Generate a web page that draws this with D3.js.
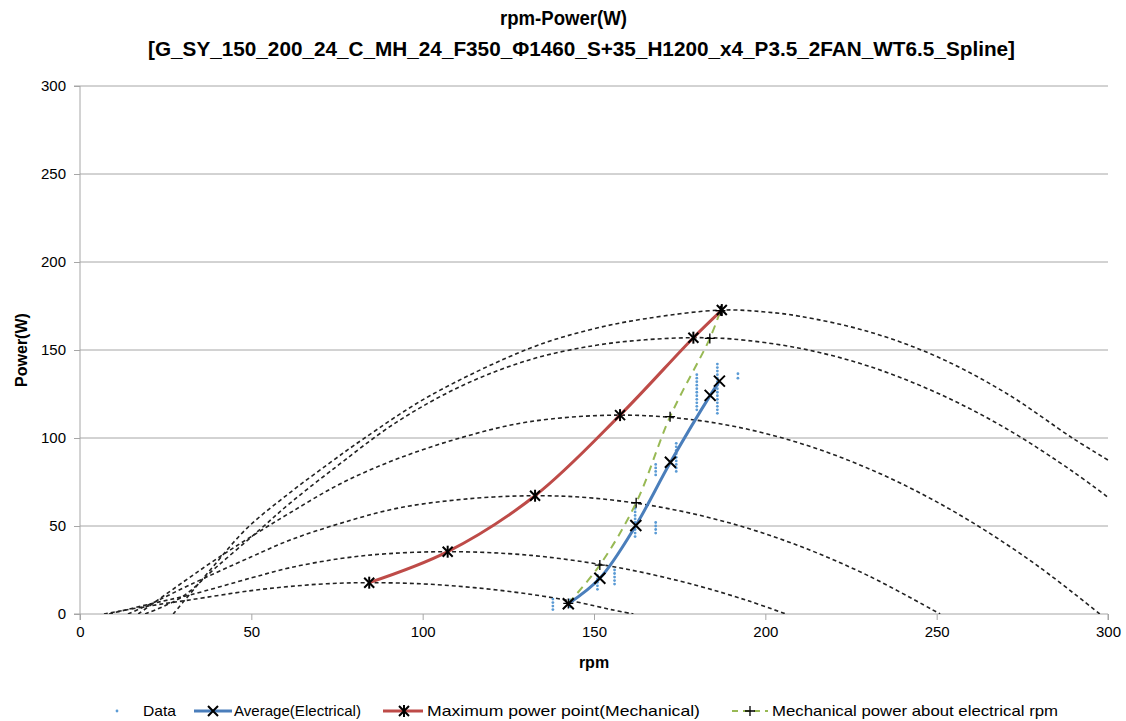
<!DOCTYPE html>
<html>
<head>
<meta charset="utf-8">
<script src="https://cdn.jsdelivr.net/npm/d3@7"></script>
<style>
  html, body { margin: 0; padding: 0; background: #fff; }
  svg { display: block; }
  text { font-family: "Liberation Sans Narrow", "Arial Narrow", "Liberation Sans", Arial, sans-serif; fill: #000; }
</style>
</head>
<body>
<svg id="chart" width="1126" height="721"></svg>
<script>
// ---------------- DATA ----------------
const titleLine1 = "rpm-Power(W)";
const titleLine2 = "[G_SY_150_200_24_C_MH_24_F350_Φ1460_S+35_H1200_x4_P3.5_2FAN_WT6.5_Spline]";
const xTicks = [0, 50, 100, 150, 200, 250, 300];
const yTicks = [0, 50, 100, 150, 200, 250, 300];

// Power curves at fixed wind speeds: [rpm, power]
const curveW1 = [[7,0],[20,4.5],[32,8],[50,13.3],[61,15.6],[72,17.2],[84.4,17.8],[100,17.1],[115,15],[130,11.6],[145,6.8],[155,2.5],[161.5,0]];
const curveW2 = [[8.5,0],[20,5.5],[32,10.8],[50,20.5],[61.3,26.3],[76,31.5],[90,34.3],[107.3,35.4],[125,34.3],[140,31.5],[160,25.3],[180,16.2],[195,7.5],[206,0]];
const curveW3 = [[14,0],[22,7],[32,16.5],[50,32.5],[61.3,42],[76,51.5],[92.4,60],[111.8,65.2],[132.8,67.2],[150,65.8],[170,60.5],[190,51.5],[210,38.6],[230,21.8],[251,0]];
const curveW4 = [[17,0],[30,18],[40,31.5],[50,44],[61.3,57.5],[76,74],[92.4,88],[111.8,100.5],[131.3,109.3],[157.6,113],[180,110.1],[200,102.6],[220,90.5],[240,73.8],[260,52.5],[280,26.6],[297.6,0]];
const curveW5 = [[19,0],[30,10],[40,27],[52.5,48],[61.3,63],[73,81],[92.4,109],[111.8,130],[131.3,144.5],[150,152.5],[165,155.8],[179,157],[190,156.3],[210,151],[230,140.9],[250,125.7],[270,105.7],[290,80.6],[300,66.3]];
const curveW6 = [[27.2,0],[38,25],[48.6,48.5],[61.3,69],[73,86],[82.7,99.5],[102.1,124],[131.3,151],[148.8,161.5],[165,167.8],[187.3,172.7],[200,171.6],[210,169.2],[230,160.5],[250,146.3],[270,125.8],[290,99.5],[300,87.5]];
const windCurves = [curveW1, curveW2, curveW3, curveW4, curveW5, curveW6];

// Average (Electrical)
const avgRpm   = [142.5, 151.7, 162.2, 172.3, 183.9, 186.6];
const avgPower = [5.8, 20.3, 50.3, 86.2, 124.2, 132.3];

// Maximum power point (Mechanical)
const mppRpm   = [84.4, 107.3, 132.8, 157.6, 179.0, 187.3];
const mppPower = [17.8, 35.4, 67.2, 113.0, 157.0, 172.7];

// Mechanical power about electrical rpm
const mechRpm   = [142.5, 151.7, 162.3, 172.2, 183.8, 186.9];
const mechPower = [6.0, 27.8, 63.2, 112.1, 156.6, 172.3];

// Raw data points
const dataRpm = [
  138,138,138,138, 143,143,
  151,151,151,151,151,
  156,156,156,156,156,
  162,162,162,162,162,162,162,162,162,
  168,168,168,168, 168,168,168,168,
  174,174,174,174,174,174,174,174,174,
  180,180,180,180,180,180,180,180,180,180,180,
  186,186,186,186,186,186,186,186,186,186,186,186,186,186,186,
  192,192
];
const dataPower = [
  2.5,4.5,6.5,8.5, 4,8,
  14,16,18,20,22,
  17,19,21,23,25,
  44,46,48,50,52,54,56,58,60,
  46,48,50,52, 79,81,83,85,
  81,83,85,87,89,91,93,95,97,
  116,118,120,122,124,126,128,130,132,134,136,
  114,116,118,120,122,124,126,128,130,132,134,136,138,140,142,
  134,136.5
];

// ---------------- CHART ----------------
const svg = d3.select("#chart");
const plot = {left: 80, right: 1108, top: 86, bottom: 614};
const x = d3.scaleLinear().domain([0, 300]).range([plot.left, plot.right]);
const y = d3.scaleLinear().domain([0, 300]).range([plot.bottom, plot.top]);

const colBlue = "#4a7ebb", colRed = "#be4b48", colGreen = "#98b954", colDot = "#5b9bd5";
const gridCol = "#a6a6a6";

// Titles
svg.append("text").attr("x", 500).attr("y", 25).attr("font-size", 20).attr("font-weight", "bold")
  .attr("textLength", 127).attr("lengthAdjust", "spacingAndGlyphs").text(titleLine1);
svg.append("text").attr("x", 148).attr("y", 56).attr("font-size", 20).attr("font-weight", "bold")
  .attr("textLength", 867).attr("lengthAdjust", "spacingAndGlyphs").text(titleLine2);

// Gridlines
svg.append("g").selectAll("line").data(yTicks.filter(d => d > 0)).join("line")
  .attr("x1", plot.left).attr("x2", plot.right)
  .attr("y1", d => y(d)).attr("y2", d => y(d))
  .attr("stroke", gridCol).attr("stroke-width", 1);

// Axes
const xAxis = d3.axisBottom(x).tickValues(xTicks).tickSize(6).tickPadding(6);
const yAxis = d3.axisLeft(y).tickValues(yTicks).tickSize(6).tickPadding(8);
const gx = svg.append("g").attr("transform", `translate(0,${plot.bottom})`).call(xAxis);
const gy = svg.append("g").attr("transform", `translate(${plot.left},0)`).call(yAxis);
[gx, gy].forEach(g => {
  g.select(".domain").attr("stroke", gridCol);
  g.selectAll(".tick line").attr("stroke", gridCol);
  g.selectAll(".tick text").attr("font-size", 15).attr("fill", "#000")
    .attr("font-family", "'Liberation Sans Narrow', 'Liberation Sans', Arial, sans-serif");
});
gy.select(".domain").attr("d", `M-6,${plot.top}H0V${plot.bottom}H-6`);
gx.select(".domain").attr("d", `M${plot.left},6V0H${plot.right}V6`);

// Axis titles
svg.append("text").attr("x", (plot.left + plot.right) / 2).attr("y", 668).attr("text-anchor", "middle")
  .attr("font-size", 16).attr("font-weight", "bold").text("rpm");
svg.append("text").attr("transform", `translate(27,${(plot.top + plot.bottom) / 2}) rotate(-90)`)
  .attr("text-anchor", "middle").attr("font-size", 16).attr("font-weight", "bold").text("Power(W)");

// Clip
svg.append("clipPath").attr("id", "clip").append("rect")
  .attr("x", plot.left).attr("y", plot.top - 10).attr("width", plot.right - plot.left + 1).attr("height", plot.bottom - plot.top + 10);

// Wind-speed power curves
const curveLine = d3.line().x(d => x(d[0])).y(d => y(d[1])).curve(d3.curveCatmullRom.alpha(0.5));
svg.append("g").attr("clip-path", "url(#clip)").selectAll("path").data(windCurves).join("path")
  .attr("d", curveLine).attr("fill", "none").attr("stroke", "#222")
  .attr("stroke-width", 1.6).attr("stroke-dasharray", "4,3");

// Data points
svg.append("g").selectAll("circle").data(dataRpm.map((r, i) => [r, dataPower[i]])).join("circle")
  .attr("cx", d => x(d[0])).attr("cy", d => y(d[1])).attr("r", 1.4).attr("fill", colDot);

// Series lines
const smooth = d3.line().x(d => x(d[0])).y(d => y(d[1])).curve(d3.curveCatmullRom.alpha(0.5));
const mechPts = mechRpm.map((r, i) => [r, mechPower[i]]);
const avgPts = avgRpm.map((r, i) => [r, avgPower[i]]);
const mppPts = mppRpm.map((r, i) => [r, mppPower[i]]);

svg.append("path").datum(mechPts).attr("d", smooth).attr("fill", "none")
  .attr("stroke", colGreen).attr("stroke-width", 2).attr("stroke-dasharray", "8,6");
svg.append("path").datum(mppPts).attr("d", smooth).attr("fill", "none")
  .attr("stroke", colRed).attr("stroke-width", 3);
svg.append("path").datum(avgPts).attr("d", smooth).attr("fill", "none")
  .attr("stroke", colBlue).attr("stroke-width", 3);

// Markers
function xMark(g, cx, cy, s) {
  g.append("path").attr("d", `M${cx-s},${cy-s}L${cx+s},${cy+s}M${cx-s},${cy+s}L${cx+s},${cy-s}`)
    .attr("stroke", "#000").attr("stroke-width", 2).attr("fill", "none");
}
function starMark(g, cx, cy, s) {
  xMark(g, cx, cy, s);
  g.append("path").attr("d", `M${cx},${cy-s-1}V${cy+s+1}`).attr("stroke", "#000").attr("stroke-width", 2);
}
function plusMark(g, cx, cy, s) {
  g.append("path").attr("d", `M${cx-s},${cy}H${cx+s}M${cx},${cy-s}V${cy+s}`)
    .attr("stroke", "#000").attr("stroke-width", 1.3).attr("fill", "none");
}
const mk = svg.append("g");
mechPts.forEach(d => plusMark(mk, x(d[0]), y(d[1]), 5));
avgPts.forEach(d => xMark(mk, x(d[0]), y(d[1]), 5.5));
mppPts.forEach(d => starMark(mk, x(d[0]), y(d[1]), 5));

// Legend
const ly = 711;
const lg = svg.append("g");
lg.append("circle").attr("cx", 117).attr("cy", ly).attr("r", 1.4).attr("fill", colDot);
lg.append("text").attr("x", 143).attr("y", ly + 5).attr("font-size", 15).attr("textLength", 33).attr("lengthAdjust", "spacingAndGlyphs").text("Data");

lg.append("line").attr("x1", 194).attr("x2", 232).attr("y1", ly).attr("y2", ly).attr("stroke", colBlue).attr("stroke-width", 3);
xMark(lg, 213, ly, 5);
lg.append("text").attr("x", 234).attr("y", ly + 5).attr("font-size", 15).attr("textLength", 127).attr("lengthAdjust", "spacingAndGlyphs").text("Average(Electrical)");

lg.append("line").attr("x1", 383).attr("x2", 423).attr("y1", ly).attr("y2", ly).attr("stroke", colRed).attr("stroke-width", 3);
starMark(lg, 404, ly, 5);
lg.append("text").attr("x", 427).attr("y", ly + 5).attr("font-size", 15).attr("textLength", 273).attr("lengthAdjust", "spacingAndGlyphs").text("Maximum power point(Mechanical)");

lg.append("line").attr("x1", 732).attr("x2", 768).attr("y1", ly).attr("y2", ly).attr("stroke", colGreen).attr("stroke-width", 2).attr("stroke-dasharray", "6,5");
plusMark(lg, 750, ly, 5);
lg.append("text").attr("x", 772).attr("y", ly + 5).attr("font-size", 15).attr("textLength", 286).attr("lengthAdjust", "spacingAndGlyphs").text("Mechanical power about electrical rpm");
</script>
</body>
</html>
